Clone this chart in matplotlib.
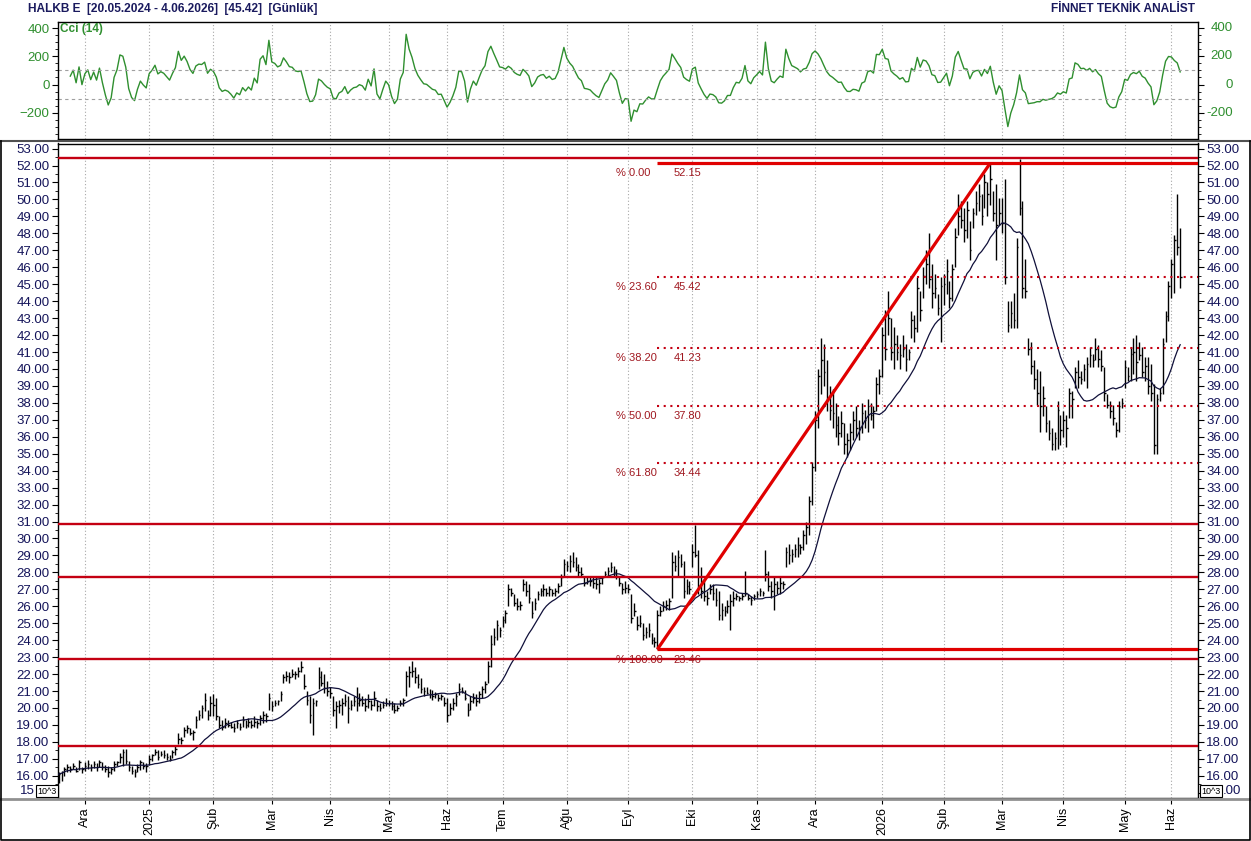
"""
HALKB daily bar chart with CCI(14) panel, SMA(20), support lines and Fibonacci levels.
Output: out.png (1251x841)
"""
import numpy as np
import pandas as pd
import matplotlib
matplotlib.use('Agg')
import matplotlib.pyplot as plt
from matplotlib.lines import Line2D

plt.rcParams['font.family'] = ['Liberation Sans', 'DejaVu Sans']

# ============================================================
# 1. Daily bars, one list per month: (low, high, close)
# ============================================================
nov24 = [(15.6, 16.2, 16.1), (15.7, 16.3, 16.2), (16.0, 16.5, 16.4), (16.2, 16.7, 16.5), (16.2, 16.6, 16.4),
         (16.4, 16.75, 16.6), (16.2, 16.5, 16.3), (16.35, 16.95, 16.8), (16.15, 16.5, 16.4)]
dec24 = [(16.3, 16.8, 16.6), (16.4, 16.95, 16.7), (16.3, 16.7, 16.5), (16.45, 16.85, 16.7), (16.3, 16.75, 16.5),
         (16.5, 16.95, 16.8), (16.35, 16.8, 16.5), (16.2, 16.65, 16.4), (15.95, 16.6, 16.2), (16.1, 16.5, 16.4),
         (16.3, 16.85, 16.7), (16.55, 16.9, 16.8), (16.75, 17.35, 17.1), (16.6, 17.6, 17.4), (16.7, 17.6, 16.9),
         (16.3, 16.9, 16.5), (16.1, 16.6, 16.3), (15.95, 16.4, 16.2), (16.25, 16.7, 16.5), (16.35, 16.95, 16.8),
         (16.4, 16.8, 16.6), (16.25, 16.75, 16.6)]
jan25 = [(16.65, 17.2, 17.0), (16.85, 17.3, 17.2), (17.2, 17.6, 17.4), (16.95, 17.5, 17.1), (17.15, 17.45, 17.3),
         (17.05, 17.5, 17.2), (16.95, 17.35, 17.1), (16.85, 17.25, 17.0), (17.05, 17.5, 17.4), (17.25, 17.75, 17.6),
         (17.9, 18.5, 18.2), (17.9, 18.3, 18.1), (18.3, 18.9, 18.7), (18.5, 19.0, 18.8), (18.4, 18.8, 18.5),
         (18.1, 18.7, 18.6), (18.8, 19.5, 19.3), (19.3, 19.9, 19.6), (19.4, 20.2, 20.0), (19.8, 20.9, 20.5),
         (19.3, 19.9, 19.6), (19.5, 20.7, 20.3)]
feb25 = [(19.5, 20.8, 20.2), (19.3, 20.6, 19.5), (18.8, 19.5, 19.0), (18.7, 19.3, 18.9), (18.8, 19.4, 19.1),
         (18.9, 19.3, 19.0), (18.8, 19.2, 18.9), (18.6, 19.1, 18.8), (18.8, 19.3, 19.1), (18.7, 19.1, 18.9),
         (18.9, 19.5, 19.3), (18.8, 19.3, 19.0), (18.9, 19.4, 19.2), (18.8, 19.3, 19.0), (18.9, 19.5, 19.2),
         (18.8, 19.3, 19.1), (19.0, 19.6, 19.4), (19.1, 19.8, 19.6), (19.2, 19.7, 19.5), (19.9, 20.9, 20.6)]
mar25 = [(19.8, 20.4, 20.1), (20.1, 20.5, 20.3), (20.2, 20.5, 20.4), (20.4, 21.0, 20.8), (21.5, 22.0, 21.8),
         (21.6, 22.2, 21.9), (21.5, 22.1, 21.8), (21.8, 22.3, 22.0), (21.7, 22.2, 22.0), (21.8, 22.4, 22.2),
         (22.1, 22.8, 22.4), (21.1, 22.0, 21.3), (20.2, 21.0, 20.5), (19.1, 20.7, 19.6), (18.4, 20.6, 20.3),
         (20.1, 20.5, 20.4), (21.1, 22.4, 21.8), (21.3, 22.2, 21.5), (20.9, 22.0, 21.2), (20.7, 21.6, 21.0)]
apr25 = [(20.6, 21.25, 20.9), (19.5, 20.7, 19.9), (18.8, 20.4, 20.1), (19.7, 20.5, 20.2), (19.6, 20.6, 20.3),
         (20.1, 20.8, 20.4), (19.1, 20.7, 20.0), (19.9, 20.5, 20.2), (20.1, 20.7, 20.4), (19.8, 21.25, 20.3),
         (20.1, 20.9, 20.5), (20.1, 20.7, 20.3), (19.8, 20.6, 20.1), (20.0, 20.8, 20.4), (19.9, 20.5, 20.2),
         (20.1, 21.0, 20.6), (19.8, 20.5, 20.1), (19.8, 20.3, 20.0), (20.0, 20.4, 20.2), (20.1, 20.6, 20.3)]
may25 = [(20.1, 20.5, 20.3), (19.9, 20.4, 20.1), (19.7, 20.3, 19.9), (19.8, 20.2, 20.0), (20.1, 20.5, 20.3),
         (20.1, 20.6, 20.5), (20.7, 22.2, 21.9), (21.25, 22.5, 22.1), (21.8, 22.8, 22.2), (21.5, 22.4, 21.8),
         (21.2, 22.0, 21.4), (20.9, 21.75, 21.1), (20.7, 21.25, 21.0), (20.8, 21.25, 20.9), (20.6, 21.15, 20.8),
         (20.5, 21.05, 20.7), (20.6, 20.95, 20.8), (20.4, 20.85, 20.6), (20.5, 20.85, 20.7), (20.1, 20.65, 20.3)]
jun25 = [(19.2, 20.6, 19.6), (19.6, 20.3, 20.0), (19.9, 20.6, 20.3), (20.1, 20.9, 20.7), (20.75, 21.45, 21.1),
         (20.9, 21.25, 21.0), (20.5, 21.05, 20.6), (19.5, 20.3, 19.9), (19.9, 20.7, 20.4), (20.3, 20.9, 20.6),
         (20.1, 20.8, 20.4), (20.3, 21.0, 20.8), (20.6, 21.3, 21.1), (20.9, 21.6, 21.4), (21.5, 22.8, 22.5),
         (22.4, 24.3, 23.8), (23.7, 24.7, 24.2), (24.0, 25.2, 24.9), (24.2, 24.8, 24.6)]
jul25 = [(24.8, 25.4, 25.2), (25.0, 25.8, 25.6), (26.0, 27.3, 27.0), (26.6, 27.1, 26.8), (26.0, 26.7, 26.2),
         (25.8, 26.5, 26.0), (25.8, 26.3, 26.1), (26.9, 27.6, 27.3), (26.6, 27.5, 26.9), (26.2, 27.3, 26.5),
         (25.3, 26.3, 25.6), (25.8, 26.5, 26.2), (26.4, 26.9, 26.7), (26.6, 27.1, 26.9), (26.6, 27.3, 27.0),
         (26.6, 27.1, 26.8), (26.6, 27.2, 27.0), (26.6, 27.0, 26.8), (26.6, 27.1, 26.9), (26.8, 27.4, 27.2),
         (27.2, 27.9, 27.7), (27.8, 28.8, 28.5)]
aug25 = [(28.1, 28.7, 28.4), (28.0, 29.0, 28.7), (28.3, 29.2, 28.6), (28.1, 28.9, 28.3), (27.8, 28.5, 28.0),
         (27.7, 28.3, 27.9), (27.2, 27.8, 27.4), (27.3, 27.7, 27.5), (27.2, 27.8, 27.5), (27.1, 27.7, 27.4),
         (27.0, 27.7, 27.3), (26.8, 27.6, 27.4), (27.3, 27.8, 27.7), (27.7, 28.1, 27.9), (27.7, 28.3, 28.1),
         (28.0, 28.6, 28.3), (27.8, 28.4, 28.0), (27.6, 28.2, 27.8), (27.2, 27.7, 27.4), (26.7, 27.4, 27.0),
         (26.8, 27.5, 27.1)]
sep25 = [(26.8, 27.3, 27.0), (25.0, 26.7, 25.3), (25.4, 26.2, 25.7), (24.6, 25.4, 24.9), (24.8, 25.5, 25.0),
         (24.0, 25.0, 24.3), (24.1, 24.8, 24.5), (24.2, 25.0, 24.6), (23.8, 24.4, 24.0), (23.6, 24.2, 23.9),
         (23.46, 25.8, 25.5), (25.4, 26.0, 25.7), (25.7, 26.3, 26.0), (25.8, 26.4, 26.1), (25.8, 26.5, 26.3),
         (26.5, 29.2, 28.6), (28.1, 29.0, 28.4), (27.7, 29.3, 28.9), (28.3, 29.1, 28.5), (26.5, 28.7, 26.9),
         (26.7, 27.6, 27.2), (26.7, 27.5, 27.0)]
oct25 = [(28.3, 29.7, 29.2), (28.9, 30.8, 29.0), (26.7, 29.3, 27.2), (26.5, 28.3, 26.9), (26.3, 27.5, 26.6),
         (26.1, 26.9, 26.5), (26.7, 27.3, 27.0), (26.4, 27.3, 26.8), (26.0, 27.1, 26.4), (25.2, 26.9, 25.5),
         (25.2, 26.2, 25.8), (25.4, 26.0, 25.7), (25.6, 26.4, 26.0), (24.6, 26.7, 26.3), (26.0, 26.9, 26.5),
         (26.4, 26.8, 26.6), (26.3, 26.6, 26.5), (26.4, 26.8, 26.6), (26.6, 28.1, 26.8), (26.4, 26.7, 26.5),
         (26.1, 26.6, 26.4), (26.4, 26.7, 26.6)]
nov25 = [(26.5, 26.9, 26.7), (26.6, 27.1, 26.9), (26.6, 26.9, 26.8), (27.5, 29.3, 27.9), (26.9, 28.1, 27.2),
         (26.5, 27.5, 26.9), (25.8, 27.7, 27.3), (26.7, 27.5, 27.1), (26.7, 27.7, 27.4), (27.0, 27.5, 27.3),
         (28.3, 29.5, 29.2), (28.5, 29.7, 29.0), (28.6, 29.4, 29.1), (28.9, 29.7, 29.4), (28.9, 30.1, 29.6),
         (29.1, 29.7, 29.5), (29.3, 30.5, 30.2), (29.7, 31.0, 30.7), (30.2, 32.5, 32.2), (32.0, 34.5, 34.2)]
dec25 = [(34.0, 37.5, 37.0), (36.5, 40.0, 39.6), (38.5, 41.8, 40.5), (39.0, 41.5, 39.8), (37.5, 40.5, 38.2),
         (37.0, 39.0, 37.6), (36.5, 38.8, 37.4), (36.0, 38.0, 36.7), (35.5, 37.2, 36.2), (36.0, 37.5, 36.8),
         (35.0, 36.8, 35.6), (34.8, 36.2, 35.8), (35.2, 36.8, 36.3), (35.8, 37.5, 37.0), (36.0, 37.8, 36.5),
         (35.8, 37.0, 36.6), (36.2, 38.0, 37.4), (36.5, 37.6, 37.0), (36.3, 38.2, 37.8), (37.0, 38.0, 37.3),
         (36.5, 37.8, 37.5), (37.5, 39.5, 39.1), (38.5, 40.0, 39.6)]
jan26 = [(39.5, 42.5, 42.0), (40.5, 43.5, 41.2), (42.0, 44.6, 43.0), (40.5, 43.0, 41.0), (40.0, 42.5, 41.5),
         (40.5, 42.0, 41.0), (40.0, 41.5, 40.8), (40.7, 42.0, 41.2), (39.9, 41.5, 40.6), (40.5, 41.2, 41.0),
         (41.8, 43.4, 42.9), (41.6, 43.2, 42.4), (42.2, 45.4, 44.8), (42.8, 44.6, 43.5), (44.2, 46.0, 45.5),
         (45.0, 47.0, 46.2), (44.8, 48.0, 45.3), (43.6, 46.2, 44.5), (44.2, 45.6, 44.8), (43.2, 44.4, 43.6),
         (41.6, 45.4, 44.9)]
feb26 = [(43.8, 45.6, 45.0), (44.4, 46.5, 45.8), (43.6, 45.2, 44.2), (44.0, 46.2, 45.9), (46.0, 48.3, 47.8),
         (47.9, 50.3, 49.0), (48.3, 49.9, 48.8), (47.5, 49.5, 48.2), (47.7, 49.9, 49.4), (46.4, 48.7, 47.0),
         (48.3, 49.5, 49.2), (49.1, 50.5, 49.8), (49.3, 50.9, 50.2), (48.5, 50.3, 49.0), (49.5, 51.5, 51.0),
         (49.0, 51.0, 50.3), (49.7, 52.15, 51.2), (48.7, 50.5, 49.2), (46.4, 50.9, 48.5), (48.5, 50.1, 49.2)]
mar26 = [(48.0, 50.1, 48.6), (45.0, 51.2, 45.4), (42.2, 44.0, 42.6), (42.4, 44.0, 43.3), (42.4, 44.5, 42.9),
         (42.4, 47.7, 47.2), (49.1, 52.4, 49.5), (44.2, 49.9, 44.8), (44.2, 46.5, 44.6), (40.8, 41.8, 41.2),
         (39.7, 41.6, 40.2), (38.8, 40.5, 39.4), (37.9, 40.0, 38.6), (36.3, 39.9, 37.8), (37.2, 39.0, 38.3),
         (36.3, 37.8, 36.8), (35.8, 37.0, 36.2), (35.2, 36.5, 35.6), (35.2, 36.3, 35.9), (35.3, 38.1, 37.6),
         (35.5, 37.3, 36.4)]
apr26 = [(36.0, 37.5, 37.0), (35.4, 37.3, 36.5), (37.1, 38.9, 38.6), (37.1, 38.7, 38.2), (38.9, 40.1, 39.8),
         (38.9, 40.5, 39.5), (39.1, 39.9, 39.4), (39.3, 40.3, 40.0), (38.9, 40.7, 40.3), (40.1, 41.3, 40.8),
         (40.1, 40.9, 40.5), (40.5, 41.8, 41.2), (40.1, 41.4, 40.6), (39.9, 41.1, 40.2), (38.1, 40.1, 38.6),
         (37.7, 38.5, 37.9), (37.1, 38.1, 37.5), (36.7, 37.9, 37.1), (36.0, 36.9, 36.4), (36.3, 38.1, 37.8),
         (37.7, 38.3, 38.0)]
may26 = [(38.9, 40.5, 40.1), (39.3, 40.1, 39.6), (39.3, 41.3, 40.9), (39.7, 41.8, 41.0), (39.3, 42.0, 40.4),
         (40.5, 41.6, 40.8), (39.5, 41.3, 39.8), (39.3, 40.7, 40.2), (38.5, 40.7, 39.0), (38.1, 40.3, 38.6),
         (35.0, 39.1, 35.5), (35.0, 38.5, 38.2), (38.1, 38.9, 38.6), (38.5, 41.8, 41.5), (41.6, 43.4, 43.1),
         (42.8, 45.2, 44.9)]
jun26 = [(44.2, 46.5, 46.2), (44.5, 47.9, 47.6), (46.7, 50.3, 47.2), (44.8, 48.3, 45.42)]

# Borsa Istanbul closing days inside the range
holidays = ['2025-01-01', '2025-03-31', '2025-04-01', '2025-04-23', '2025-05-01', '2025-05-19',
            '2025-06-06', '2025-06-09', '2025-07-15', '2025-10-29', '2026-01-01', '2026-03-20',
            '2026-04-23', '2026-05-01', '2026-05-19', '2026-05-27', '2026-05-28', '2026-05-29']

# Horizontal support / resistance lines
support_levels = [52.45, 30.85, 27.7, 22.9, 17.75]

# Fibonacci retracement (Sep-15 low -> Feb-24 high)
fib_anchor = ('2025-09-15', '2026-02-24')
fib_pcts = ['% 0.00', '% 23.60', '% 38.20', '% 50.00', '% 61.80', '% 100.00']
fib_values = [52.15, 45.42, 41.23, 37.80, 34.44, 23.46]

tr_months = {2: 'Şub', 3: 'Mar', 4: 'Nis', 5: 'May', 6: 'Haz', 7: 'Tem', 8: 'Ağu',
             9: 'Eyl', 10: 'Eki', 11: 'Kas', 12: 'Ara'}

# ============================================================
# 2. Build series
# ============================================================
months = [nov24, dec24, jan25, feb25, mar25, apr25, may25, jun25, jul25, aug25, sep25, oct25,
          nov25, dec25, jan26, feb26, mar26, apr26, may26, jun26]
bars = [b for m in months for b in m]
df = pd.DataFrame(bars, columns=['low', 'high', 'close'])

dates = pd.bdate_range('2024-11-19', '2026-06-04')
dates = dates[~dates.isin(pd.to_datetime(holidays))]
assert len(dates) == len(df), (len(dates), len(df))
x = np.arange(len(df))

sma = df['close'].rolling(20, min_periods=1).mean()
tp = (df['high'] + df['low'] + df['close']) / 3
tp_ma = tp.rolling(14, min_periods=5).mean()
tp_md = tp.rolling(14, min_periods=5).apply(lambda w: np.mean(np.abs(w - w.mean())), raw=True)
cci = (tp - tp_ma) / (0.015 * tp_md)

ticks = [i for i in range(1, len(dates)) if dates[i].month != dates[i - 1].month]
tick_labels = [str(dates[i].year) if dates[i].month == 1 else tr_months[dates[i].month] for i in ticks]

# ============================================================
# 3. Figure layout (pixel boxes)
# ============================================================
W, H = 1251, 841
fig = plt.figure(figsize=(W / 100, H / 100), dpi=100)


def box(l, t, r, b):
    return [l / W, 1 - b / H, (r - l) / W, (b - t) / H]


ax_cci = fig.add_axes(box(58, 21.5, 1198, 139))
ax = fig.add_axes(box(58, 143.5, 1198, 797.5))

navy = '#14145a'
green = '#2f8f2f'
red_dark = '#c40012'
red_fib = '#e00000'
grid_kw = dict(color='#a8a8a8', lw=0.8, ls=(0, (1, 2)))
xmin, xmax = -0.2, 390.1

# ---- CCI panel
ax_cci.plot(x, cci, color=green, lw=1.0)
ax_cci.axhline(100, color='#a0a0a0', lw=0.8, ls=(0, (3, 3)))
ax_cci.axhline(-100, color='#a0a0a0', lw=0.8, ls=(0, (3, 3)))
ax_cci.set_xlim(xmin, xmax)
ax_cci.set_ylim(-386, 447)
ax_cci.set_xticks(ticks)
ax_cci.set_xticklabels([])
ax_cci.tick_params(axis='x', length=0)
ax_cci.grid(axis='x', **grid_kw)
ax_cci.set_yticks([-200, 0, 200, 400])
ax_cci.set_yticks(np.arange(-350, 450, 50), minor=True)
ax_cci.tick_params(axis='y', which='both', colors='black', labelcolor=green, labelsize=9.5,
                   right=True, direction='out', length=4, pad=2)
ax_cci.tick_params(axis='y', which='minor', length=2)
for v in [-200, 0, 200, 400]:
    ax_cci.text(1.0305, v, str(v), transform=ax_cci.get_yaxis_transform(), ha='right', va='center',
                color=green, fontsize=9.5)
ax_cci.text(0.002, 0.985, 'Cci (14)', transform=ax_cci.transAxes, ha='left', va='top',
            color=green, fontsize=8.5, fontweight='bold')

# ---- Price panel
for v in support_levels:
    ax.axhline(v, color=red_dark, lw=1.7, zorder=4)

ax.vlines(x, df['low'], df['high'], color='black', lw=1.0, zorder=2)
ax.hlines(df['close'], x, x + 0.55, color='black', lw=1.0, zorder=2)
ax.plot(x, sma, color='#10103a', lw=0.9, zorder=3)

i0 = dates.get_loc(pd.Timestamp(fib_anchor[0]))
i1 = dates.get_loc(pd.Timestamp(fib_anchor[1]))
ax.plot([i0, i1], [fib_values[-1], fib_values[0]], color=red_fib, lw=2.3, zorder=5,
        solid_capstyle='butt')
for k, (pct, val) in enumerate(zip(fib_pcts, fib_values)):
    if k in (0, len(fib_values) - 1):
        ax.plot([i0, xmax], [val, val], color=red_fib, lw=2.3, zorder=5, solid_capstyle='butt')
    else:
        ax.plot([i0, xmax], [val, val], color=red_dark, lw=1.5, ls=(0, (1, 2.2)), zorder=5)
    ax.text(i0 - 14.3, val - 0.6, pct, color='#a01820', fontsize=8, ha='left', va='center', zorder=6)
    ax.text(i0 + 5.5, val - 0.6, f'{val:.2f}', color='#a01820', fontsize=8, ha='left', va='center', zorder=6)

ax.set_xlim(xmin, xmax)
ax.set_ylim(14.72, 53.3)
yt = np.arange(15, 54, 1)
ax.set_yticks(yt)
ax.set_yticks(np.arange(15.5, 53, 1), minor=True)
# lowest label is partly hidden behind the 10^3 boxes: drawn by hand below
ax.set_yticklabels([''] + [f'{v:.2f}' for v in yt[1:]])
ax.tick_params(axis='y', which='both', labelsize=9.5, labelcolor=navy, right=True, labelright=True,
               direction='out', length=4, pad=2)
ax.tick_params(axis='y', which='minor', length=2)
ax.set_xticks(ticks)
ax.set_xticklabels(tick_labels, rotation=90, fontsize=9)
ax.tick_params(axis='x', direction='out', length=4, pad=3)
ax.grid(axis='x', **grid_kw)
ax.set_axisbelow(True)

for a in (ax, ax_cci):
    for s in a.spines.values():
        s.set_linewidth(1.0)

# ---- 10^3 boxes with the visible part of the "15.00" labels
y_box = 1 - 791 / H
fig.text(35 / W, y_box, '15', fontsize=9.5, color=navy, ha='right', va='center')
fig.text(37 / W, y_box, '10^3', fontsize=6.5, ha='left', va='center',
         bbox=dict(boxstyle='square,pad=0.15', fc='white', ec='black', lw=0.8))
fig.text(1201 / W, y_box, '10^3', fontsize=6.5, ha='left', va='center',
         bbox=dict(boxstyle='square,pad=0.15', fc='white', ec='black', lw=0.8))
fig.text(1223 / W, y_box, '.00', fontsize=9.5, color=navy, ha='left', va='center')

# ---- frame and separators
fig.add_artist(Line2D([0, 1], [1 - 141 / H, 1 - 141 / H], color='#505050', lw=1.5))
fig.add_artist(Line2D([0, 1], [1 - 798.5 / H, 1 - 798.5 / H], color='#909090', lw=2.0))
fig.add_artist(Line2D([0.0005, 0.0005, 0.9995, 0.9995], [1 - 141 / H, 0.0008, 0.0008, 1 - 141 / H],
                      color='black', lw=1.2))

# ---- header
fig.text(28 / W, 1 - 9 / H, 'HALKB E  [20.05.2024 - 4.06.2026]  [45.42]  [Günlük]', fontsize=8.6,
         fontweight='bold', color='#1a1a5e', ha='left', va='center')
fig.text(1195 / W, 1 - 9 / H, 'FİNNET TEKNİK ANALİST', fontsize=8.6, fontweight='bold',
         color='#1a1a5e', ha='right', va='center')

fig.savefig('out.png', dpi=100)
